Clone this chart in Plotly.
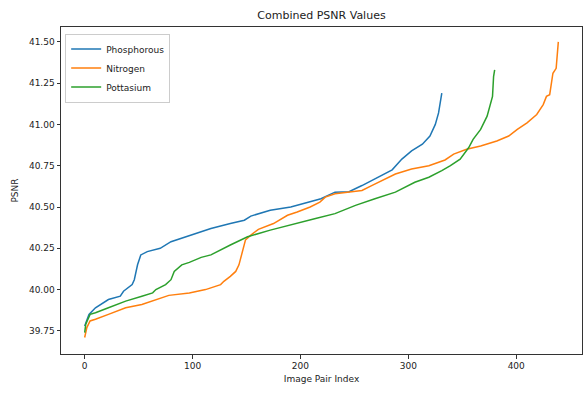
import plotly.graph_objects as go

# Phosphorous (332 points, indices 0..331)
phos_idx = [0, 4, 10, 22, 33, 36, 44, 46, 49, 52, 58, 70, 80, 92, 100, 107, 117, 135, 148, 154, 172, 191, 209, 219, 232, 245, 257, 272, 285, 294, 303, 313, 320, 325, 328, 331]
phos_val = [39.78, 39.85, 39.89, 39.94, 39.96, 39.99, 40.03, 40.06, 40.15, 40.21, 40.23, 40.25, 40.29, 40.315, 40.335, 40.35, 40.37, 40.40, 40.42, 40.445, 40.48, 40.50, 40.53, 40.55, 40.59, 40.593, 40.63, 40.68, 40.725, 40.79, 40.84, 40.88, 40.93, 41.00, 41.07, 41.19]

# Nitrogen (440 points, indices 0..439)
nit_idx = [0, 2, 5, 10, 22, 38, 53, 72, 78, 97, 112, 126, 129, 135, 140, 143, 146, 149, 154, 161, 175, 188, 197, 209, 218, 223, 232, 245, 257, 266, 276, 288, 303, 319, 334, 342, 354, 367, 382, 393, 401, 410, 419, 425, 428, 431, 434, 437, 439]
nit_val = [39.71, 39.77, 39.81, 39.82, 39.85, 39.89, 39.91, 39.95, 39.965, 39.98, 40.00, 40.03, 40.05, 40.08, 40.11, 40.15, 40.23, 40.30, 40.33, 40.365, 40.40, 40.45, 40.47, 40.50, 40.53, 40.56, 40.58, 40.59, 40.60, 40.63, 40.66, 40.70, 40.73, 40.75, 40.785, 40.82, 40.85, 40.87, 40.90, 40.93, 40.97, 41.01, 41.06, 41.12, 41.17, 41.18, 41.31, 41.34, 41.50]

# Pottasium (381 points, indices 0..380)
pot_idx = [0, 1, 5, 10, 22, 38, 53, 63, 66, 75, 80, 83, 90, 97, 108, 117, 135, 151, 172, 191, 214, 232, 251, 269, 288, 306, 319, 331, 339, 348, 356, 360, 367, 373, 376, 378, 379, 380]
pot_val = [39.74, 39.79, 39.85, 39.86, 39.89, 39.93, 39.96, 39.98, 40.00, 40.03, 40.06, 40.11, 40.15, 40.165, 40.195, 40.21, 40.27, 40.32, 40.36, 40.39, 40.43, 40.46, 40.51, 40.55, 40.59, 40.65, 40.68, 40.72, 40.75, 40.79, 40.86, 40.91, 40.97, 41.05, 41.13, 41.17, 41.29, 41.33]

x_ticks = [0, 100, 200, 300, 400]
y_ticks = [39.75, 40.00, 40.25, 40.50, 40.75, 41.00, 41.25, 41.50]

FONT = "DejaVu Sans"
TXT = "#222222"
fig = go.Figure()
for name, xs, ys, col in [("Phosphorous", phos_idx, phos_val, "#1f77b4"),
                          ("Nitrogen", nit_idx, nit_val, "#ff7f0e"),
                          ("Pottasium", pot_idx, pot_val, "#2ca02c")]:
    fig.add_trace(go.Scatter(x=xs, y=ys, mode="lines", name=name,
                             line=dict(color=col, width=1.5)))

axis_common = dict(showline=True, linecolor="#333333", linewidth=1, mirror=True,
                   ticks="outside", ticklen=3.5, tickcolor="#333333", showgrid=False,
                   zeroline=False, tickfont=dict(family=FONT, size=9, color=TXT))
fig.update_layout(
    width=584, height=394,
    margin=dict(l=61, r=2, t=27, b=40),
    paper_bgcolor="white", plot_bgcolor="white",
    title=dict(text="Combined PSNR Values", x=0.5 * (61 + 582) / 584, xanchor="center",
               y=1 - 15 / 394, yanchor="middle",
               font=dict(family=FONT, size=11, color=TXT)),
    xaxis=dict(range=[-21.95, 460.95], tickvals=x_ticks,
               title=dict(text="Image Pair Index", font=dict(family=FONT, size=9, color=TXT), standoff=5),
               **axis_common),
    yaxis=dict(range=[39.61, 41.59], tickvals=y_ticks, tickformat=".2f",
               title=dict(text="PSNR", font=dict(family=FONT, size=9, color=TXT), standoff=8),
               **axis_common),
    legend=dict(x=0.008, y=0.98, xanchor="left", yanchor="top",
                bordercolor="#cccccc", borderwidth=1, bgcolor="rgba(255,255,255,0.8)",
                font=dict(family=FONT, size=9, color=TXT), itemwidth=30),
    showlegend=True,
)
fig.write_html("out.html")
